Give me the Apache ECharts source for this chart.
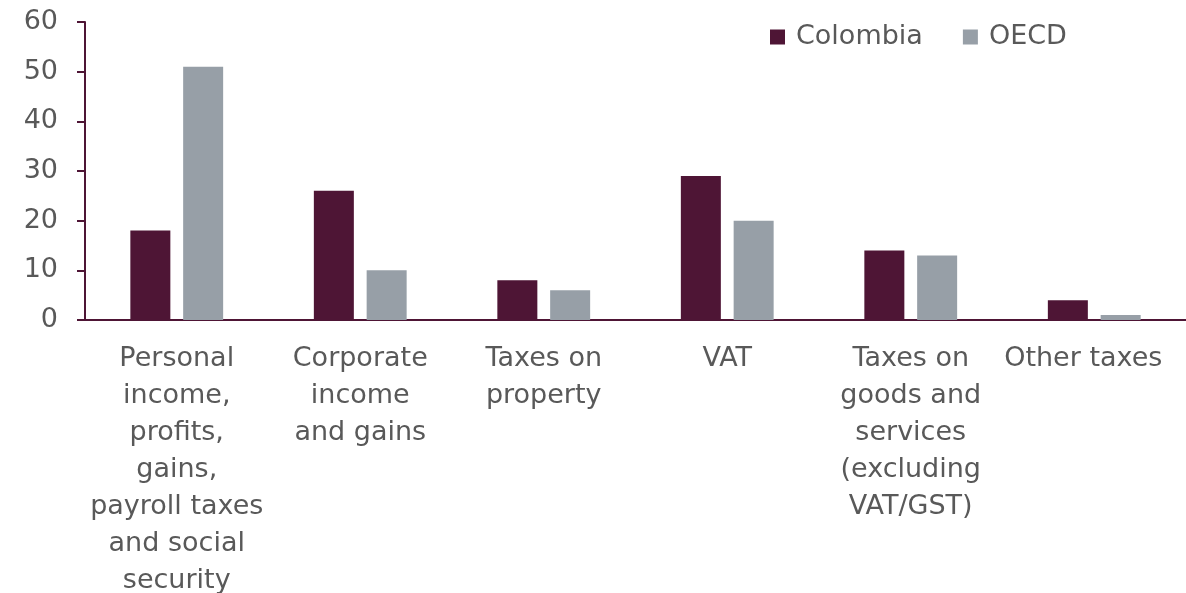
<!DOCTYPE html>
<html>
<head>
<meta charset="utf-8">
<script src="https://cdn.jsdelivr.net/npm/echarts@6/dist/echarts.min.js"></script>
<style>
  html, body { margin: 0; padding: 0; background: #ffffff; }
  #chart { width: 1186px; height: 593px; }
</style>
</head>
<body>
<div id="chart"></div>
<script>
// Tax revenue structure, % of total
const categories = [
  'Personal\nincome,\nprofits,\ngains,\npayroll taxes\nand social\nsecurity',
  'Corporate\nincome\nand gains',
  'Taxes on\nproperty',
  'VAT',
  'Taxes on\ngoods and\nservices\n(excluding\nVAT/GST)',
  'Other taxes'
];
const colombia = [18, 26, 8, 29, 14, 4];
const oecd = [51, 10, 6, 20, 13, 1];
const yTicks = [0, 10, 20, 30, 40, 50, 60];

const textColor = '#595959';
const axisColor = '#4e1535';
const font = 'DejaVu Sans, Liberation Sans, Arial, sans-serif';

// The last label sits against the right edge, so nudge it inward a little.
const categoryItems = categories.map((name, i) =>
  i === categories.length - 1
    ? { value: name, textStyle: { padding: [0, 22, 0, 0] } }
    : name
);

const chart = echarts.init(document.getElementById('chart'), null, { renderer: 'canvas' });
chart.setOption({
  animation: false,
  grid: { left: 85, right: 0, top: 22, bottom: 273, outerBoundsMode: 'none', containLabel: false },
  legend: {
    top: 22,
    left: 770,
    padding: 0,
    itemWidth: 15,
    itemHeight: 15,
    itemGap: 40,
    icon: 'rect',
    textStyle: { color: textColor, fontSize: 27, fontFamily: font, lineHeight: 30, padding: [0, 0, 0, 6] },
    data: ['Colombia', 'OECD']
  },
  xAxis: {
    type: 'category',
    data: categoryItems,
    axisLine: { lineStyle: { color: axisColor, width: 2 } },
    axisTick: { show: false },
    axisLabel: {
      interval: 0,
      color: textColor,
      fontSize: 27,
      fontFamily: font,
      lineHeight: 37,
      margin: 20,
      align: 'center'
    }
  },
  yAxis: {
    type: 'value',
    min: yTicks[0],
    max: yTicks[yTicks.length - 1],
    interval: 10,
    splitLine: { show: false },
    axisLine: { show: true, lineStyle: { color: axisColor, width: 2 } },
    axisTick: { show: true, inside: false, length: 8, lineStyle: { color: axisColor, width: 2 } },
    axisLabel: { color: textColor, fontSize: 27, fontFamily: font, margin: 27 }
  },
  series: [
    {
      name: 'Colombia',
      type: 'bar',
      data: colombia,
      barWidth: 40,
      barGap: '32%',
      itemStyle: { color: '#4e1535' }
    },
    {
      name: 'OECD',
      type: 'bar',
      data: oecd,
      barWidth: 40,
      itemStyle: { color: '#979fa7' }
    }
  ]
});
</script>
</body>
</html>
